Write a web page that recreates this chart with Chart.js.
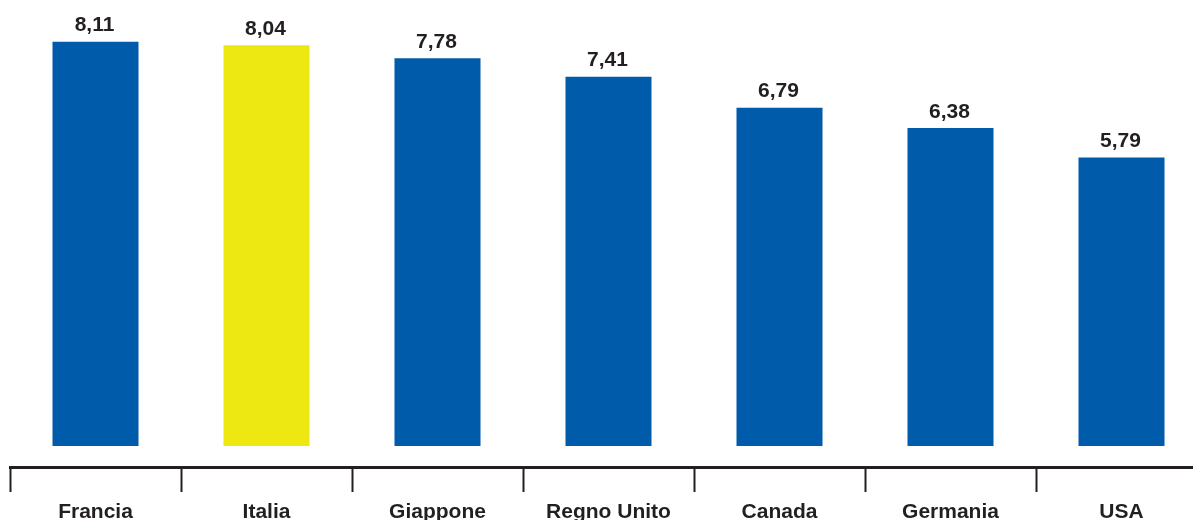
<!DOCTYPE html>
<html lang="it">
<head>
<meta charset="utf-8">
<title>Confronto paesi</title>
<script src="https://cdn.jsdelivr.net/npm/chart.js@4"></script>
<style>
    html, body { margin: 0; padding: 0; background: #fff; overflow: hidden; }
    #chart { display: block; }
</style>
</head>
<body>
<canvas id="chart" width="1207" height="520"></canvas>
<script>
const paesi = ['Francia', 'Italia', 'Giappone', 'Regno Unito', 'Canada', 'Germania', 'USA'];
const valori = [8.11, 8.04, 7.78, 7.41, 6.79, 6.38, 5.79];
const evidenziato = 'Italia';

const BLU = '#005baa';
const GIALLO = '#ede812';
const TESTO = '#231f20';
const LINEA = '#231f20';
const FONT = '"Liberation Sans", Arial, Helvetica, sans-serif';

// etichette con il valore sopra ogni barra (virgola decimale)
const etichetteValori = {
    id: 'etichetteValori',
    afterDatasetsDraw(chart) {
        const ctx = chart.ctx;
        const meta = chart.getDatasetMeta(0);
        ctx.save();
        ctx.font = 'bold 21px ' + FONT;
        ctx.fillStyle = TESTO;
        ctx.textAlign = 'center';
        ctx.textBaseline = 'alphabetic';
        meta.data.forEach((bar, i) => {
            const testo = valori[i].toFixed(2).replace('.', ',');
            ctx.fillText(testo, bar.x - 1, bar.y - 10.5);
        });
        ctx.restore();
    }
};

new Chart(document.getElementById('chart'), {
    type: 'bar',
    data: {
        labels: paesi,
        datasets: [{
            data: valori,
            backgroundColor: paesi.map(p => p === evidenziato ? GIALLO : BLU),
            borderWidth: 0,
            categoryPercentage: 1,
            barPercentage: 0.503
        }]
    },
    options: {
        responsive: false,
        animation: false,
        layout: { padding: { left: 10, right: 0, top: 0, bottom: 0 } },
        plugins: {
            legend: { display: false },
            tooltip: { enabled: false }
        },
        scales: {
            y: {
                display: false,
                min: -0.42,
                max: 8.95
            },
            x: {
                afterFit(scale) { scale.height = 53; },
                border: { display: true, color: LINEA, width: 3 },
                grid: {
                    offset: true,
                    drawOnChartArea: false,
                    drawTicks: true,
                    tickLength: 25,
                    tickColor: LINEA,
                    tickWidth: 2
                },
                ticks: {
                    color: TESTO,
                    padding: 8,
                    maxRotation: 0,
                    autoSkip: false,
                    font: { family: FONT, size: 21, weight: 'bold' }
                }
            }
        }
    },
    plugins: [etichetteValori]
});
</script>
</body>
</html>
